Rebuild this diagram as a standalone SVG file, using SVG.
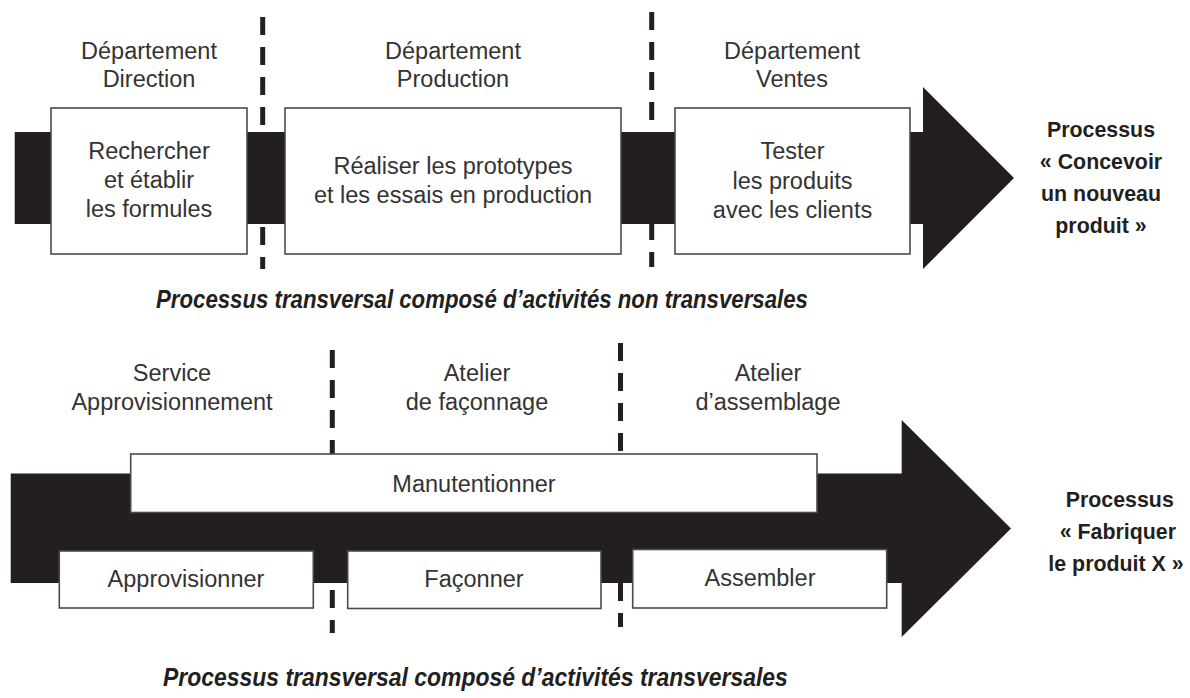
<svg xmlns="http://www.w3.org/2000/svg" width="1190" height="698" viewBox="0 0 1190 698">
<style>
.bg{fill:#ffffff}
.band{fill:#231f20}
.sep{stroke:#231f20;stroke-width:5;stroke-dasharray:18 12;fill:none}
.box{fill:#ffffff;stroke:#4a4a4a;stroke-width:1.6}
.lbl{font-family:"Liberation Sans",Arial,sans-serif;font-size:23.5px;fill:#333333;text-anchor:middle}
.proc{font-family:"Liberation Sans",Arial,sans-serif;font-size:23px;font-weight:bold;fill:#231f20;text-anchor:middle}
.cap{font-family:"Liberation Sans",Arial,sans-serif;font-weight:bold;font-style:italic;fill:#231f20}
</style>
<rect class="bg" x="0" y="0" width="1190" height="698"/>

<g id="separators">
<line class="sep" x1="262.7" y1="17" x2="262.7" y2="269"/>
<line class="sep" x1="651.7" y1="12" x2="651.7" y2="267"/>
<line class="sep" x1="332.3" y1="350" x2="332.3" y2="633"/>
<line class="sep" x1="620.5" y1="343" x2="620.5" y2="627"/>
</g>

<g id="connectors">
<polygon id="arrow-top" class="band" points="14.7,132 923,132 923,87 1014,178 923,269 923,224 14.7,224"/>
<polygon id="arrow-bottom" class="band" points="10.7,473.5 901.7,473.5 901.7,420 1011,528.5 901.7,637 901.7,583 10.7,583"/>
</g>

<g id="dept-direction">
<text class="lbl" x="149" y="59">Département</text>
<text class="lbl" x="149" y="87">Direction</text>
</g>
<g id="dept-production">
<text class="lbl" x="453" y="59">Département</text>
<text class="lbl" x="453" y="87">Production</text>
</g>
<g id="dept-ventes">
<text class="lbl" x="792" y="59">Département</text>
<text class="lbl" x="792" y="87">Ventes</text>
</g>

<g id="node-rechercher">
<rect class="box" x="51" y="108" width="196" height="146"/>
<text class="lbl" x="149" y="159">Rechercher</text>
<text class="lbl" x="149" y="188">et établir</text>
<text class="lbl" x="149" y="217">les formules</text>
</g>
<g id="node-realiser">
<rect class="box" x="285" y="108" width="336" height="146"/>
<text class="lbl" x="453" y="174">Réaliser les prototypes</text>
<text class="lbl" x="453" y="203">et les essais en production</text>
</g>
<g id="node-tester">
<rect class="box" x="675" y="108" width="235" height="146"/>
<text class="lbl" x="792.5" y="159">Tester</text>
<text class="lbl" x="792.5" y="189">les produits</text>
<text class="lbl" x="792.5" y="218">avec les clients</text>
</g>

<g id="label-concevoir" transform="translate(1101,0) scale(0.93,1)">
<text class="proc" x="0" y="137">Processus</text>
<text class="proc" x="0" y="169">« Concevoir</text>
<text class="proc" x="0" y="201">un nouveau</text>
<text class="proc" x="0" y="233">produit »</text>
</g>

<g id="caption-top" transform="translate(156,308) scale(0.889,1)">
<text class="cap" x="0" y="0" font-size="25">Processus transversal composé d’activités non transversales</text>
</g>

<g id="svc-approvisionnement">
<text class="lbl" x="172" y="381">Service</text>
<text class="lbl" x="172" y="410">Approvisionnement</text>
</g>
<g id="atelier-faconnage">
<text class="lbl" x="477" y="381">Atelier</text>
<text class="lbl" x="477" y="410">de façonnage</text>
</g>
<g id="atelier-assemblage">
<text class="lbl" x="768" y="381">Atelier</text>
<text class="lbl" x="768" y="410">d’assemblage</text>
</g>

<g id="node-manutentionner">
<rect class="box" x="130.7" y="454" width="686.3" height="58.5"/>
<text class="lbl" x="474" y="492">Manutentionner</text>
</g>
<g id="node-approvisionner">
<rect class="box" x="59.3" y="551" width="254" height="57"/>
<text class="lbl" x="186" y="587">Approvisionner</text>
</g>
<g id="node-faconner">
<rect class="box" x="347.7" y="551" width="253.3" height="57.5"/>
<text class="lbl" x="474" y="587">Façonner</text>
</g>
<g id="node-assembler">
<rect class="box" x="632.7" y="549.5" width="254" height="58.5"/>
<text class="lbl" x="760" y="586">Assembler</text>
</g>

<g id="label-fabriquer" transform="translate(1116,0) scale(0.93,1)">
<text class="proc" x="4" y="507">Processus</text>
<text class="proc" x="2" y="539">« Fabriquer</text>
<text class="proc" x="0" y="571">le produit X »</text>
</g>

<g id="caption-bottom" transform="translate(163,686) scale(0.9,1)">
<text class="cap" x="0" y="0" font-size="25.5">Processus transversal composé d’activités transversales</text>
</g>
</svg>
